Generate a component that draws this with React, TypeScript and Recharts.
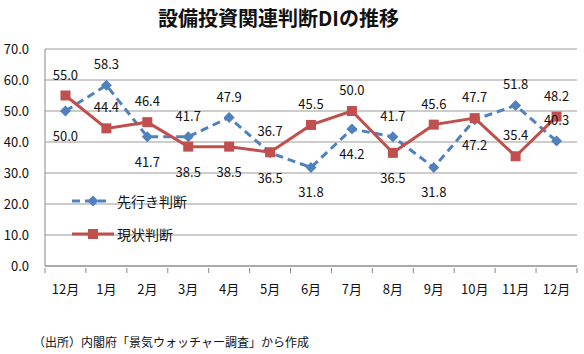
import { LineChart, Line, XAxis, YAxis, CartesianGrid, LabelList } from "recharts";

const months = ["12月", "1月", "2月", "3月", "4月", "5月", "6月", "7月", "8月", "9月", "10月", "11月", "12月"];
const forecast = [50.0, 58.3, 41.7, 41.7, 47.9, 36.5, 31.8, 44.2, 41.7, 31.8, 47.2, 51.8, 40.3];
const current = [55.0, 44.4, 46.4, 38.5, 38.5, 36.7, 45.5, 50.0, 36.5, 45.6, 47.7, 35.4, 48.2];
const yTicks = [0, 10, 20, 30, 40, 50, 60, 70];

// points whose label sits above even though the other series is higher there
const forecastLabelUp = [12];
const currentLabelUp = [1, 11];

const BLUE = "#4f81bd";
const RED = "#c0504d";
const FONT = '"Noto Sans CJK JP", "Noto Sans", sans-serif';

const data = months.map((m, i) => ({ month: m, forecast: forecast[i], current: current[i] }));

const PLOT_LEFT = 45;
const PLOT_RIGHT = 577;
const STEP = (PLOT_RIGHT - PLOT_LEFT) / months.length;

function Diamond({ cx, cy }: any) {
  if (cx == null || cy == null) return null;
  const r = 5.5;
  return <path d={`M${cx},${cy - r}L${cx + r},${cy}L${cx},${cy + r}L${cx - r},${cy}Z`} fill={BLUE} />;
}

function Square({ cx, cy }: any) {
  if (cx == null || cy == null) return null;
  return <rect x={cx - 5} y={cy - 5} width={10} height={10} fill={RED} />;
}

function makeLabel(own: number[], other: number[], upList: number[]) {
  return (props: any) => {
    const { x, y, index, value } = props;
    const up = own[index] >= other[index] || upList.includes(index);
    return (
      <text x={x} y={up ? y - 16 : y + 30} textAnchor="middle" fontSize={13} fill="#111" fontFamily={FONT}>
        {Number(value).toFixed(1)}
      </text>
    );
  };
}

function MonthTick({ x, y, payload, index }: any) {
  const left = x - STEP / 2;
  return (
    <g>
      <line x1={left} y1={y} x2={left} y2={y + 5} stroke="#888" />
      {index === months.length - 1 && <line x1={x + STEP / 2} y1={y} x2={x + STEP / 2} y2={y + 5} stroke="#888" />}
      <text x={x} y={y + 26} textAnchor="middle" fontSize={13} fill="#111" fontFamily={FONT}>
        {payload.value}
      </text>
    </g>
  );
}

function LegendBox() {
  return (
    <div
      style={{
        position: "absolute",
        left: 71,
        top: 191,
        fontFamily: FONT,
        fontSize: 14,
        color: "#111",
        lineHeight: "20px",
      }}
    >
      <div style={{ display: "flex", alignItems: "center", height: 20 }}>
        <svg width={46} height={20}>
          <line x1={1} y1={10} x2={39} y2={10} stroke={BLUE} strokeWidth={3} strokeDasharray="8 5" />
          <Diamond cx={22} cy={10} />
        </svg>
        <span>先行き判断</span>
      </div>
      <div style={{ display: "flex", alignItems: "center", height: 20, marginTop: 13 }}>
        <svg width={46} height={20}>
          <line x1={1} y1={10} x2={43} y2={10} stroke={RED} strokeWidth={3} />
          <Square cx={22} cy={10} />
        </svg>
        <span>現状判断</span>
      </div>
    </div>
  );
}

export default function App() {
  return (
    <div style={{ position: "absolute", left: 0, top: 0, width: 584, height: 354, background: "#fff" }}>
      <div
        style={{
          position: "absolute",
          left: 0,
          top: 3,
          width: 557,
          textAlign: "center",
          fontFamily: FONT,
          fontWeight: 700,
          fontSize: 20,
          color: "#111",
        }}
      >
        設備投資関連判断DIの推移
      </div>
      <LineChart width={584} height={354} data={data} margin={{ top: 49, right: 7, left: 0, bottom: 58 }}>
        <CartesianGrid vertical={false} stroke="#9a9a9a" />
        <XAxis
          dataKey="month"
          allowDuplicatedCategory
          axisLine={{ stroke: "#888" }}
          tickLine={false}
          tickSize={0}
          height={30}
          interval={0}
          padding={{ left: STEP / 2, right: STEP / 2 }}
          tick={<MonthTick />}
        />
        <YAxis
          domain={[0, 70]}
          ticks={yTicks}
          width={45}
          axisLine={{ stroke: "#888" }}
          tickLine={false}
          tickMargin={10}
          tickFormatter={(v: number) => v.toFixed(1)}
          tick={{ fontSize: 13, fill: "#111", fontFamily: FONT }}
        />
        <Line
          dataKey="forecast"
          stroke={BLUE}
          strokeWidth={3}
          strokeDasharray="8 5"
          dot={<Diamond />}
          activeDot={false}
          isAnimationActive={false}
        >
          <LabelList dataKey="forecast" content={makeLabel(forecast, current, forecastLabelUp)} />
        </Line>
        <Line
          dataKey="current"
          stroke={RED}
          strokeWidth={3}
          dot={<Square />}
          activeDot={false}
          isAnimationActive={false}
        >
          <LabelList dataKey="current" content={makeLabel(current, forecast, currentLabelUp)} />
        </Line>
      </LineChart>
      <LegendBox />
      <div
        style={{
          position: "absolute",
          left: 33,
          top: 333,
          fontFamily: FONT,
          fontSize: 12,
          color: "#111",
          whiteSpace: "nowrap",
        }}
      >
        （出所）内閣府「景気ウォッチャー調査」から作成
      </div>
    </div>
  );
}
